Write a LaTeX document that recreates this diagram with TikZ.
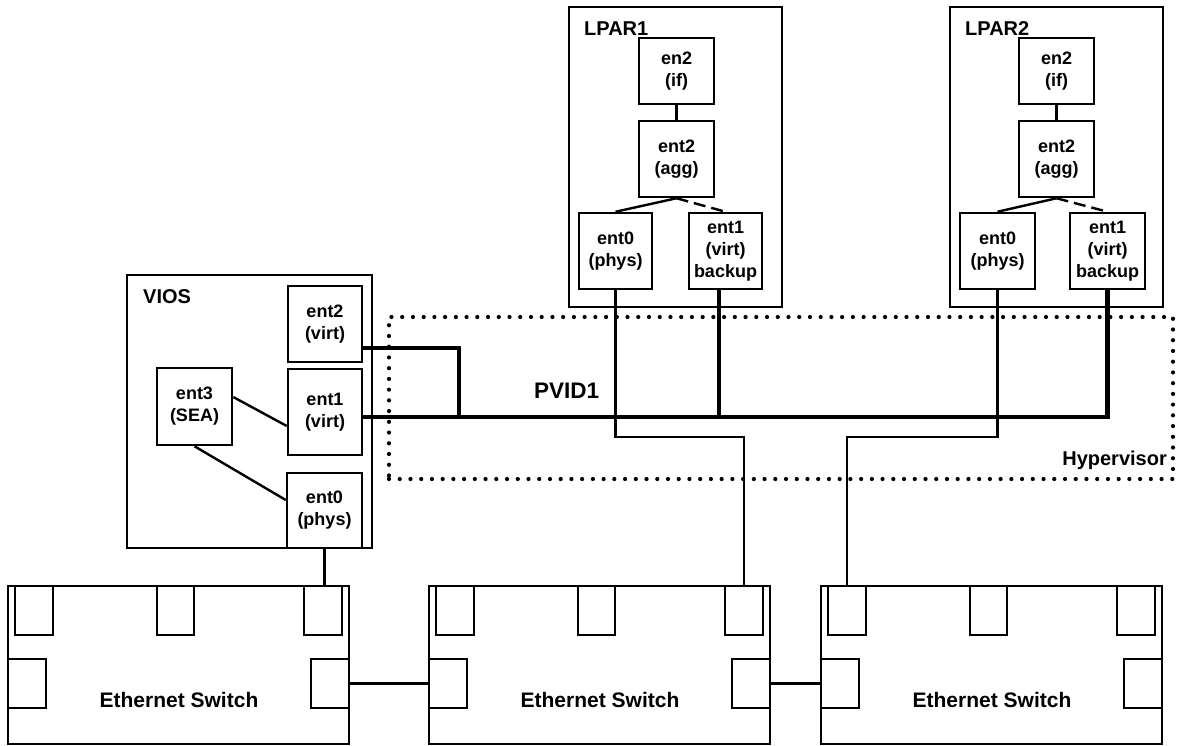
\documentclass[tikz,border=0pt]{standalone}
\usepackage{fontspec}
\setmainfont{Liberation Sans}
\begin{document}
\begin{tikzpicture}[x=1pt,y=-1pt,
  box/.style={draw, line width=2.5pt, inner sep=0pt, align=center,
    font=\bfseries\fontsize{18}{22}\selectfont},
  lbl/.style={inner sep=0pt, font=\bfseries\fontsize{20}{24}\selectfont},
  wire/.style={line width=2.4pt},
  bus/.style={line width=4.4pt},
  dotbox/.style={draw, line width=4.2pt, dash pattern=on 0pt off 10.73pt, line cap=round, inner sep=0pt}
]
\useasboundingbox (0,0) rectangle (1177,745);

% Hypervisor region
\node[dotbox, minimum width=784pt, minimum height=162pt] (hv) at (781,398) {};
\node[lbl, anchor=base east] (thv) at (1167,465) {Hypervisor};
\node[lbl, font=\bfseries\fontsize{22.5}{26}\selectfont, anchor=base west] (tpvid) at (534,398) {PVID1};

% LPAR1
\node[box, minimum width=213pt, minimum height=300pt] (lpar1) at (675.5,157) {};
\node[lbl, anchor=base west] (tl1) at (584,35) {LPAR1};
\node[box, minimum width=75pt, minimum height=66pt] (l1en2) at (676.5,71) {en2\\(if)};
\node[box, minimum width=75pt, minimum height=76pt] (l1ent2) at (676.5,159) {ent2\\(agg)};
\node[box, minimum width=73pt, minimum height=76pt] (l1ent0) at (615.5,251) {ent0\\(phys)};
\node[box, minimum width=73pt, minimum height=76pt] (l1ent1) at (725.5,251) {ent1\\(virt)\\backup};

% LPAR2
\node[box, minimum width=213pt, minimum height=300pt] (lpar2) at (1056.5,157) {};
\node[lbl, anchor=base west] (tl2) at (965,35) {LPAR2};
\node[box, minimum width=75pt, minimum height=66pt] (l2en2) at (1056.5,71) {en2\\(if)};
\node[box, minimum width=75pt, minimum height=76pt] (l2ent2) at (1056.5,159) {ent2\\(agg)};
\node[box, minimum width=75pt, minimum height=76pt] (l2ent0) at (997.5,251) {ent0\\(phys)};
\node[box, minimum width=75pt, minimum height=76pt] (l2ent1) at (1107.5,251) {ent1\\(virt)\\backup};

% VIOS
\node[box, minimum width=245pt, minimum height=273pt] (vios) at (249.5,411.5) {};
\node[lbl, anchor=base west] (tvios) at (143,303) {VIOS};
\node[box, minimum width=74pt, minimum height=76pt] (vent2) at (325,324) {ent2\\(virt)};
\node[box, minimum width=74pt, minimum height=86pt] (vent1) at (325,412) {ent1\\(virt)};
\node[box, minimum width=75pt, minimum height=75pt] (vent0) at (324.5,510.5) {ent0\\(phys)};
\node[box, minimum width=75pt, minimum height=77pt] (vent3) at (194.5,406.5) {ent3\\(SEA)};

% Ethernet switches
\foreach \o/\n in {0/1,421/2,813/3} {
  \node[box, minimum width=341pt, minimum height=158pt] (sw\n) at (178.5+\o,665) {};
  \node[box, minimum width=38pt, minimum height=49pt] (swa\n) at (34+\o,610.5) {};
  \node[box, minimum width=37pt, minimum height=49pt] (swb\n) at (175.5+\o,610.5) {};
  \node[box, minimum width=38pt, minimum height=49pt] (swc\n) at (323+\o,610.5) {};
  \node[box, minimum width=38pt, minimum height=49pt] (sww\n) at (27+\o,683.5) {};
  \node[box, minimum width=38pt, minimum height=49pt] (swe\n) at (330+\o,683.5) {};
  \node[lbl, font=\bfseries\fontsize{21}{24}\selectfont, anchor=base] (swt\n) at (179+\o,707) {Ethernet Switch};
}

% helper coordinates
\coordinate (busy) at (0,417);
\coordinate (lowy) at (0,437);
\coordinate (j1) at (459,417);

% LPAR internal links
\draw[wire] (l1en2.south) -- (l1ent2.north);
\draw[wire] (l1ent2.south) -- (l1ent0.north);
\draw[wire, dash pattern=on 12pt off 6pt] (l1ent2.south) -- (l1ent1.north);
\draw[wire] (l2en2.south) -- (l2ent2.north);
\draw[wire] (l2ent2.south) -- (l2ent0.north);
\draw[wire, dash pattern=on 12pt off 6pt] (l2ent2.south) -- (l2ent1.north);

% VIOS internal links
\draw[wire] (vent3.east |- 0,397) -- (vent1.west |- 0,426);
\draw[wire] (vent3.south) -- (vent0.west |- 0,500);

% PVID1 bus
\draw[bus] (vent1.east |- busy) -| (l2ent1.south);
\draw[bus] (vent2.east |- 0,348) -| (j1);
\draw[bus] ([xshift=-6.5pt]l1ent1.south) -- ([xshift=-6.5pt]l1ent1.south |- busy);

% physical links
\draw[wire] (l1ent0.south) -- (l1ent0.south |- lowy) -| (swc2.north);
\draw[wire] (l2ent0.south) -- (l2ent0.south |- lowy) -| (swa3.north);
\draw[wire] (vent0.south) -- (vent0.south |- swc1.north);
\draw[wire] (swe1.east) -- (sww2.west);
\draw[wire] (swe2.east) -- (sww3.west);
\end{tikzpicture}
\end{document}
